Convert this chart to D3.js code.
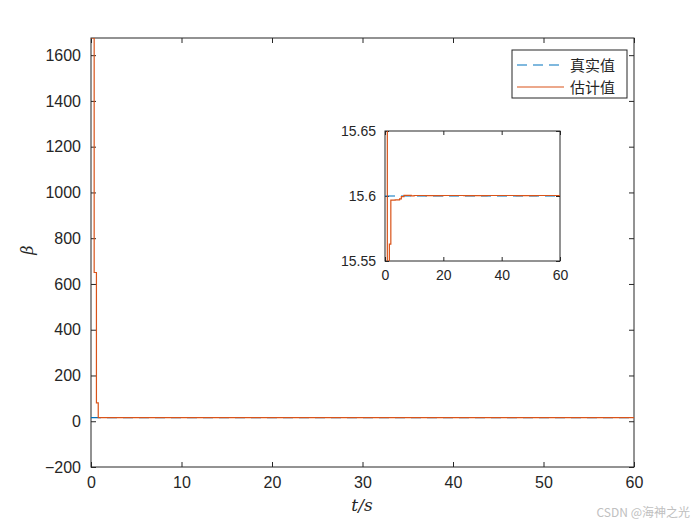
<!DOCTYPE html>
<meta charset="utf-8" />
<script src="https://d3js.org/d3.v7.min.js"></script>
<style>
  body { margin: 0; background: #fff; }
  text { font-family: "Liberation Sans", Arial, sans-serif; }
</style>
<div id="chart"></div>
<script>
  // data
  const trueT = [0, 60];
  const trueV = [15.6, 15.6];
  const estT = [0, 0.35, 0.6, 0.8, 1.5, 2.0, 3.5, 5.0, 5.6, 6.5, 9, 10, 14, 20, 27, 35, 45, 52, 60];
  const estV = [1675, 650, 80, 15.54, 15.563, 15.5968, 15.597, 15.5978, 15.5995, 15.6005, 15.6001, 15.6004, 15.6003, 15.6004, 15.6003, 15.6004, 15.6003, 15.6004, 15.6004];
  const mainYTicks = [-200, 0, 200, 400, 600, 800, 1000, 1200, 1400, 1600];
  const xTicks = [0, 10, 20, 30, 40, 50, 60];
  const insetXTicks = [0, 20, 40, 60];
  const insetYTicks = [15.55, 15.6, 15.65];
  const legendNames = ["真实值", "估计值"];

  const blue = "#0072BD", orange = "#D95319";
  const W = 700, H = 525;

  const svg = d3.select("#chart").append("svg")
    .attr("width", W).attr("height", H);

  const trueData = trueT.map((t, i) => ({ t: t, v: trueV[i] }));
  const estData = estT.map((t, i) => ({ t: t, v: estV[i] }));

  // draws one boxed axes with ticks on all sides
  function drawAxes(x0, y0, w, h, xDom, yDom, xt, yt, fs, tickLen, id, yFmt) {
    const g = svg.append("g").attr("transform", `translate(${x0},${y0})`);
    const x = d3.scaleLinear().domain(xDom).range([0, w]);
    const y = d3.scaleLinear().domain(yDom).range([h, 0]);

    g.append("rect").attr("width", w).attr("height", h).attr("fill", "#fff");

    svg.append("clipPath").attr("id", id)
      .append("rect").attr("x", x0).attr("y", y0).attr("width", w).attr("height", h);

    const line = d3.line().x(d => x(d.t)).y(d => y(d.v)).curve(d3.curveStepAfter);
    const plot = svg.append("g").attr("clip-path", `url(#${id})`)
      .append("g").attr("transform", `translate(${x0},${y0})`);
    plot.append("path").datum(trueData)
      .attr("d", line).attr("fill", "none").attr("stroke", blue)
      .attr("stroke-width", 1.2).attr("stroke-dasharray", "10,6");
    plot.append("path").datum(estData)
      .attr("d", line).attr("fill", "none").attr("stroke", orange)
      .attr("stroke-width", 1.2);

    const axStyle = sel => {
      sel.select(".domain").remove();
      sel.selectAll(".tick line").attr("stroke", "#262626");
      sel.selectAll("text").attr("fill", "#262626").style("font-size", fs + "px");
    };
    g.append("g").attr("transform", `translate(0,${h})`)
      .call(d3.axisBottom(x).tickValues(xt).tickSizeInner(-tickLen).tickSizeOuter(0).tickPadding(tickLen + 5))
      .call(axStyle);
    g.append("g")
      .call(d3.axisTop(x).tickValues(xt).tickSizeInner(-tickLen).tickSizeOuter(0).tickFormat(""))
      .call(axStyle);
    g.append("g")
      .call(d3.axisLeft(y).tickValues(yt).tickSizeInner(-tickLen).tickSizeOuter(0).tickPadding(tickLen + 5).tickFormat(yFmt))
      .call(axStyle);
    g.append("g").attr("transform", `translate(${w},0)`)
      .call(d3.axisRight(y).tickValues(yt).tickSizeInner(-tickLen).tickSizeOuter(0).tickFormat(""))
      .call(axStyle);
    g.append("rect").attr("width", w).attr("height", h)
      .attr("fill", "none").attr("stroke", "#262626").attr("stroke-width", 1);
    return g;
  }

  // main axes
  drawAxes(91, 38, 543, 429, [0, 60], [-200, 1675], xTicks, mainYTicks, 16, 5, "clipMain", d3.format("d"));

  // axis labels
  svg.append("text").attr("x", 362).attr("y", 511)
    .attr("text-anchor", "middle")
    .style("font-family", "'DejaVu Serif', 'Liberation Serif', serif")
    .style("font-style", "italic").style("font-size", "17px").attr("fill", "#262626")
    .text("t/s");
  svg.append("text").attr("transform", "translate(33,250) rotate(-90)")
    .attr("text-anchor", "middle")
    .style("font-family", "'DejaVu Serif', 'Liberation Serif', serif")
    .style("font-style", "italic").style("font-size", "16px").attr("fill", "#262626")
    .text("β");

  // legend
  const lg = svg.append("g").attr("transform", "translate(512,50)");
  lg.append("rect").attr("width", 115).attr("height", 48)
    .attr("fill", "#fff").attr("stroke", "#262626").attr("stroke-width", 1);
  legendNames.forEach((name, i) => {
    const yy = 15 + i * 22;
    lg.append("line").attr("x1", 5).attr("x2", 52).attr("y1", yy).attr("y2", yy)
      .attr("stroke", i === 0 ? blue : orange).attr("stroke-width", 1.2)
      .attr("stroke-dasharray", i === 0 ? "10,6" : null);
    lg.append("text").attr("x", 58).attr("y", yy + 6)
      .style("font-family", "'Noto Sans CJK SC', sans-serif").style("font-size", "15px")
      .attr("fill", "#262626").text(name);
  });

  // inset axes
  drawAxes(385, 131, 175, 130, [0, 60], [15.55, 15.65], insetXTicks, insetYTicks, 14, 4, "clipInset", d => d3.format("")(+d.toFixed(2)));

  // watermark
  svg.append("text").attr("x", 690).attr("y", 517).attr("text-anchor", "end")
    .style("font-family", "'Noto Sans CJK SC', sans-serif").style("font-size", "12px")
    .attr("fill", "#c0c0c0").text("CSDN @海神之光");
</script>
